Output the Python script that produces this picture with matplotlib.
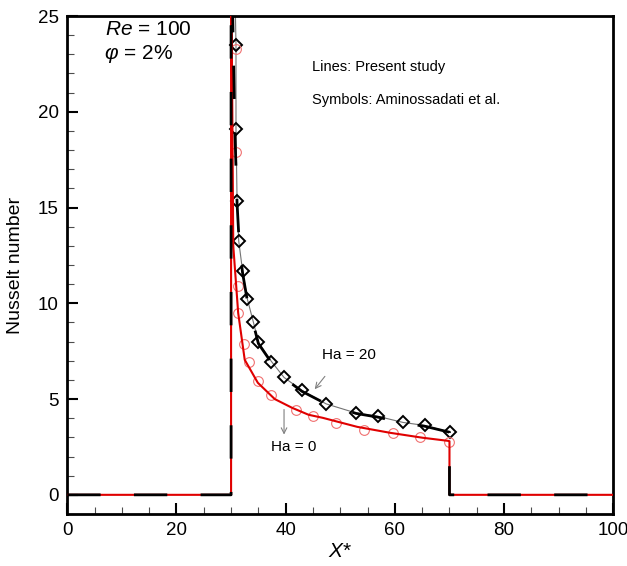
#!/usr/bin/env python3
# Nusselt number along the channel wall, Re = 100, phi = 2%

import matplotlib
matplotlib.use("Agg")
import matplotlib.pyplot as plt
from matplotlib.ticker import MultipleLocator

plt.rcParams["font.family"] = ["Liberation Sans", "DejaVu Sans"]
plt.rcParams["mathtext.fontset"] = "custom"
plt.rcParams["mathtext.rm"] = "Liberation Sans"
plt.rcParams["mathtext.it"] = "Liberation Sans:italic"

# ───── present study (lines) ─────
x_ha0 = [0, 30, 30, 30.1, 30.4, 31.3, 32.5, 34.9, 38.0, 41.2, 44.2, 46.8,
         53.1, 59.1, 65.1, 69.7, 70, 70, 100]
nu_ha0 = [0, 0, 40, 25, 13.0, 9.5, 7.05, 5.85, 5.0, 4.54, 4.18, 4.02,
          3.55, 3.24, 2.98, 2.82, 2.8, 0, 0]

x_ha20 = [0, 30, 30, 30.3, 30.7, 31.1, 31.5, 32.1, 33.0, 34.1, 35.0, 37.4,
          39.7, 43.0, 47.4, 52.9, 57.0, 61.5, 65.5, 70, 70, 100]
nu_ha20 = [0, 0, 40, 25, 19.0, 15.2, 13.1, 11.6, 10.1, 8.9, 7.9, 6.9,
           6.1, 5.4, 4.75, 4.25, 4.05, 3.75, 3.58, 3.27, 0, 0]

# ───── Aminossadati et al. (symbols) ─────
x_sym0 = [30.9, 30.9, 31.2, 31.3, 32.4, 33.3, 35.0, 37.4, 41.9, 45.0,
          49.3, 54.3, 59.7, 64.6, 70.0]
nu_sym0 = [23.3, 17.9, 10.9, 9.5, 7.87, 6.96, 5.95, 5.22, 4.44, 4.09,
           3.75, 3.39, 3.25, 3.04, 2.78]

x_sym20 = [30.7, 30.9, 30.9, 31.1, 31.4, 32.1, 33.0, 34.1, 35.0, 37.4,
           39.7, 43.0, 47.4, 52.9, 57.0, 61.5, 65.5, 70.1]
nu_sym20 = [26.5, 23.5, 19.1, 15.35, 13.26, 11.7, 10.2, 9.0, 7.97, 6.96,
            6.13, 5.45, 4.75, 4.27, 4.09, 3.78, 3.62, 3.27]

# ───── figure ─────
fig = plt.figure(figsize=(6.27, 5.66), dpi=100)
ax = fig.add_axes([0.1073, 0.0919, 0.8708, 0.8798])

ax.plot(x_sym20, nu_sym20, color="0.45", lw=0.8, marker="D", ms=6.5,
        mfc="none", mec="black", mew=1.4, zorder=2,
        markevery=list(range(1, len(x_sym20))))
ax.plot(x_sym0, nu_sym0, ls="none", marker="o", ms=7, mfc="none",
        mec="#f07070", mew=0.8, zorder=2)
ax.plot(x_ha0, nu_ha0, color="#e00000", lw=1.5, zorder=3)
ax.plot(x_ha20, nu_ha20, color="black", lw=2.0, ls=(0, (12, 12)), zorder=4)

ax.set_xlim(0, 100)
ax.set_ylim(-1, 25)
ax.xaxis.set_major_locator(MultipleLocator(20))
ax.xaxis.set_minor_locator(MultipleLocator(5))
ax.yaxis.set_major_locator(MultipleLocator(5))
ax.yaxis.set_minor_locator(MultipleLocator(1))
ax.tick_params(which="both", direction="in", top=False, right=False,
               labelsize=13.5, pad=6)
ax.tick_params(which="major", length=8, width=1.5)
ax.tick_params(which="minor", length=5, width=0.8, color="0.3")
for s in ax.spines.values():
    s.set_linewidth(2.0)

ax.set_xlabel("$X$*", fontsize=15, labelpad=2)
ax.set_ylabel("Nusselt number", fontsize=14, labelpad=10)

ax.text(6.9, 24.3, "$Re$ = 100", fontsize=15, va="center")
ax.text(6.7, 23.0, "$\\varphi$ = 2%", fontsize=15, va="center")
ax.text(44.8, 22.35, "Lines: Present study", fontsize=10.5, va="center")
ax.text(44.8, 20.6, "Symbols: Aminossadati et al.", fontsize=10.5, va="center")

ax.text(46.6, 7.3, "Ha = 20", fontsize=11, va="center")
ax.annotate("", xy=(45.0, 5.4), xytext=(47.5, 6.3),
            arrowprops=dict(arrowstyle="->", color="0.5", lw=0.8))
ax.text(41.4, 2.5, "Ha = 0", fontsize=11, va="center", ha="center")
ax.annotate("", xy=(39.7, 3.0), xytext=(39.7, 4.6),
            arrowprops=dict(arrowstyle="->", color="0.5", lw=0.8))

fig.savefig("out.png", dpi=100)
